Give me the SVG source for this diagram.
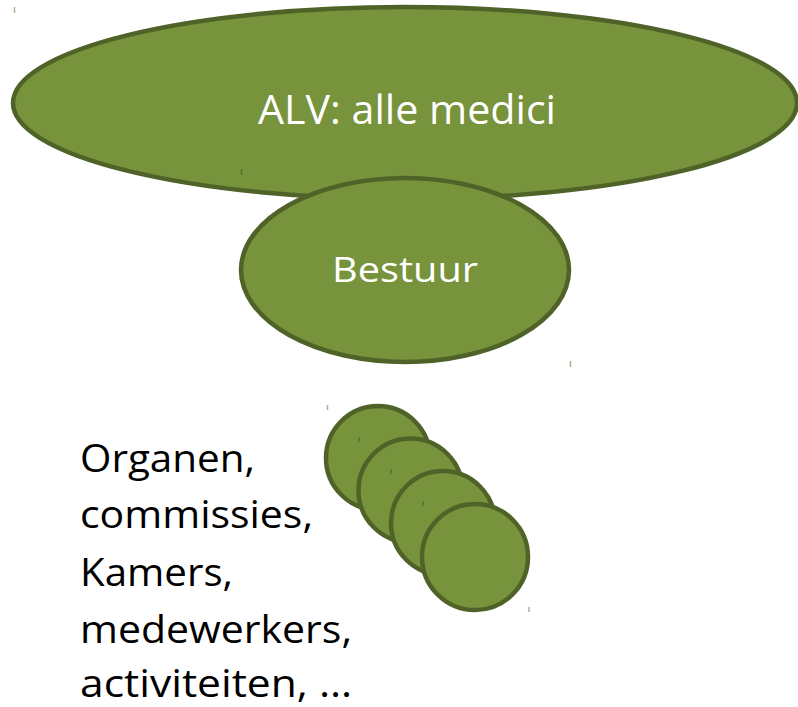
<svg xmlns="http://www.w3.org/2000/svg" width="798" height="707" viewBox="0 0 798 707">
<style>
.shape{fill:#77933C;stroke:#4F6228;stroke-width:4.5}
.wt{fill:#FFFFFF;font-family:"Open Sans","Liberation Sans",sans-serif}
.bt{fill:#000000;font-family:"Open Sans","Liberation Sans",sans-serif;font-size:38px}
.tick{stroke:#A9B38F;stroke-width:1.5}
.tickd{stroke:#56702A;stroke-width:1.5}
</style>
<rect width="798" height="707" fill="#FFFFFF"/>
<g id="alv">
<ellipse class="shape" cx="405" cy="103" rx="392" ry="96"/>
<text class="wt" x="407" y="124" font-size="40" text-anchor="middle" textLength="298" lengthAdjust="spacingAndGlyphs">ALV: alle medici</text>
</g>
<g id="bestuur">
<ellipse class="shape" cx="405" cy="270" rx="164" ry="92"/>
<text class="wt" x="405" y="282" font-size="35" text-anchor="middle" textLength="146" lengthAdjust="spacingAndGlyphs">Bestuur</text>
</g>
<g id="organen">
<circle class="shape" cx="378" cy="458" r="52"/>
<circle class="shape" cx="410.5" cy="490.5" r="52"/>
<circle class="shape" cx="443" cy="523" r="52"/>
<circle class="shape" cx="475" cy="557" r="53"/>
</g>
<g id="label">
<text class="bt" x="80" y="472" textLength="175" lengthAdjust="spacingAndGlyphs">Organen,</text>
<text class="bt" x="80" y="528" textLength="233" lengthAdjust="spacingAndGlyphs">commissies,</text>
<text class="bt" x="80" y="586" textLength="153" lengthAdjust="spacingAndGlyphs">Kamers,</text>
<text class="bt" x="80" y="643" textLength="272" lengthAdjust="spacingAndGlyphs">medewerkers,</text>
<text class="bt" x="80" y="697" textLength="272" lengthAdjust="spacingAndGlyphs">activiteiten, …</text>
</g>
<g id="connectors"></g>
<g id="ticks">
<line class="tick" x1="14.5" y1="7" x2="14.5" y2="13"/>
<line class="tickd" x1="241.5" y1="169" x2="241.5" y2="175"/>
<line class="tick" x1="570.5" y1="361" x2="570.5" y2="367"/>
<line class="tick" x1="327.5" y1="405" x2="327.5" y2="410"/>
<line class="tickd" x1="359" y1="437" x2="359" y2="442"/>
<line class="tickd" x1="391" y1="469" x2="391" y2="474"/>
<line class="tickd" x1="423" y1="501" x2="423" y2="506"/>
<line class="tick" x1="529" y1="607" x2="529" y2="612"/>
</g>
</svg>
